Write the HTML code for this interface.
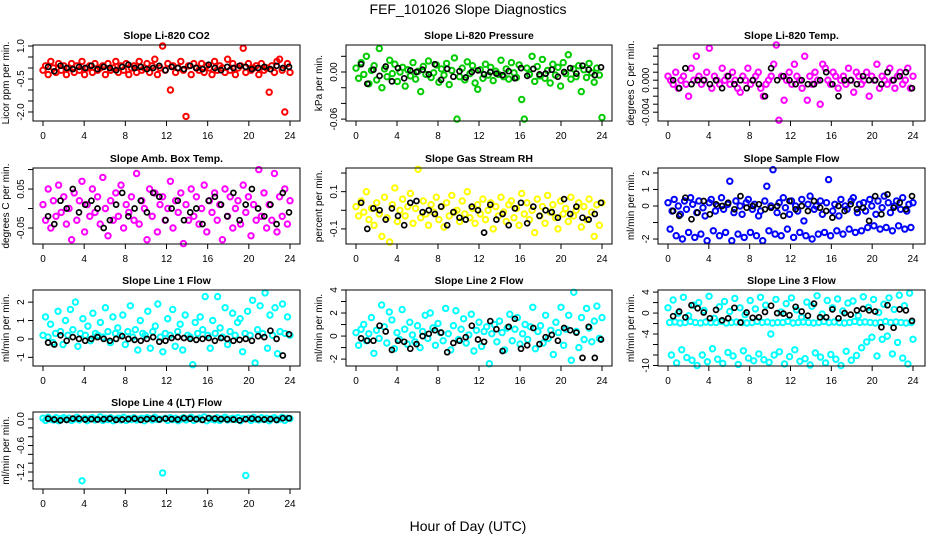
<!DOCTYPE html>
<html><head><meta charset="utf-8"><style>
html,body{margin:0;padding:0;background:#fff;}
svg{display:block;font-family:"Liberation Sans",sans-serif;}
</style></head><body>
<svg id="chart" width="936" height="540" viewBox="0 0 936 540">
<text x="468" y="14" text-anchor="middle" font-size="14">FEF_101026  Slope Diagnostics</text>
<text x="468" y="531" text-anchor="middle" font-size="14">Hour of Day (UTC)</text>
</svg>
<script>
const hourTicks = [0,4,8,12,16,20,24];

const co2Vals = [-0.1,0.1,-0.3,0.3,0,-0.2,0.2,-0.1,0.1,-0.3,0,0.2,-0.2,0.1,-0.1,0.3,-0.3,0,0.1,-0.2,0.2,-0.1,0,0.1,-0.3,0.2,-0.1,0,0.3,-0.2,0.1,-0.1,0.2,-0.3,0,0.1,-0.2,0.3,-0.1,0,0.2,-0.2,0.1,0.4,-0.3,0,1.0,-0.1,0.2,-1.0,0.1,-0.2,0,0.3,-0.1,-2.2,0.1,-0.3,0.2,0,-0.1,0.2,-0.2,0.1,0,-0.3,0.3,-0.1,0.1,0,-0.2,0.4,-0.1,0.2,-0.3,0,0.1,0.9,-0.2,0.2,-0.1,0,0.1,-0.3,0.2,-0.1,0,-1.1,0.1,-0.2,0.3,0.4,-0.1,-2.0,0.2,-0.2];
const co2Black = [0.05,-0.15,0.1,0,-0.05,0.05,0,0.1,-0.05,0.05,0,-0.1,0.05,0.15,0,0.05,-0.05,0,0.1,-0.1,0.05,0,-0.05,0.1,0,-0.05,0.15,0,-0.1,0.05,0,0.1,0.05,-0.05,0,0.05,-0.05,0.1,0,0.05];

const pressVals = [5,-8,12,-3,20,-15,2,8,-10,30,-20,4,-6,15,-2,10,-12,0,6,-18,3,-5,12,-9,1,-25,7,-3,14,-7,-1,9,-13,4,-4,11,-16,2,18,-60,-6,5,-10,13,-2,8,-14,-22,3,-8,10,-4,6,-11,1,-3,15,-6,4,-9,12,-1,-7,9,-35,-60,5,-3,20,-12,7,-5,16,-8,2,-14,10,-4,6,-18,12,-2,22,-9,4,-6,8,-25,3,-7,11,-1,-13,5,-4,-58];
const pressBlack = [10,-15,3,-5,7,-12,5,-8,2,0,3,-3,10,-10,4,-6,1,-7,0,2,-3,0,-2,-4,1,-8,5,-5,4,-3,-2,3,-6,0,5,-2,8,3,-4,6];

const tempVals = [0.5,0,-0.5,1,-1,0,0.5,-0.5,-2,1.5,0,3,0.5,-0.5,0,1,4,-1,0.5,0,-0.5,1.5,0,0.5,-0.5,1,0,-1,-1.5,0.5,0,1.5,-0.5,0,0.5,1,-1,-2,-0.5,0,0.5,2,4.4,-5,0.5,-2.5,0,1,-0.5,2,0.5,0,-1,3,-2.5,0.5,-0.5,1,0,-3,2,1.5,0,-0.5,1,0.5,-1,0,0.5,-0.5,1.5,0,-1.5,1,0.5,-0.5,0,1,-2,0.5,0,2,-1,0.5,0,-0.5,1.5,0,-1,0.5,1,-0.5,0,1.5,-1,0.5];
const tempBlack = [0,-1,1.5,-0.5,0,0,-0.5,0,-1,0.5,-0.5,0,-1,0,-0.5,-2,1.5,0,0.5,0,-0.5,0,-0.5,-0.5,0,1,-0.5,-2,0,0,-0.5,0.5,0,0,-0.5,1,0,0.5,1,-1];

const ambVals = [1,-3,5,-5,2,-2,6,-1,3,-4,0,-8,4,-3,2,7,-6,1,-2,5,-1,3,-4,8,0,-7,2,-3,4,-2,6,-5,1,-1,3,-3,9,-4,2,0,-8,5,-2,4,-6,1,3,-3,0,7,-5,2,-1,4,-9,1,-3,5,-2,3,-4,0,6,-6,2,-1,4,-3,1,-8,5,-2,3,-5,0,2,-4,6,-1,3,-7,1,-3,10,-2,4,-5,1,-3,9,-6,3,-2,5,-4,2];
const ambBlack = [-2,-4,2,0,5,-1,1,2,0,-5,-3,1,4,-2,0,2,-1,4,3,-3,0,2,-3,-1,0,-4,2,3,1,-2,4,-3,1,5,0,-2,1,-4,4,-1];

const rhVals = [2,-3,5,-1,10,-5,1,-8,4,-2,-14,7,-4,-17,3,12,-6,0,6,-3,2,9,-7,1,22,-4,5,-2,-8,3,-1,7,-5,2,-9,4,-3,8,-1,0,-6,5,-2,10,-4,1,-7,3,-2,6,-5,0,4,-10,2,-3,7,-1,-6,3,5,-4,1,-8,9,-2,4,-5,0,-12,6,-3,2,-7,8,-1,3,-4,-10,5,-2,1,-6,7,-3,0,4,-9,2,-5,6,-1,-14,3,-8,4];
const rhBlack = [4,-10,1,0,-5,1,-3,-8,4,5,-1,0,-2,2,-8,-1,-4,-5,2,0,-12,3,-5,-2,-8,1,4,-7,2,-3,0,-1,-4,6,-2,2,-4,-5,-2,4];

const sampleVals = [0.2,-1.4,-0.3,0.4,-1.8,0,-0.5,-2.0,0.3,-0.2,-1.6,0.5,0.1,-1.9,-0.4,0.3,-1.7,-0.1,-0.6,-2.1,0.2,0.4,-1.5,-0.3,0,-1.8,0.5,-0.2,-1.6,0.1,1.5,-2.1,-0.4,0.3,-1.7,0,-0.5,-1.9,0.2,0.4,-1.6,-0.2,0.1,-1.8,-0.6,-0.3,-2.1,0.3,1.2,-1.5,0,2.2,-1.7,-0.4,0.2,-1.8,0.5,-0.1,-1.4,-0.5,0.3,-1.9,0,-0.3,-1.6,0.4,-0.9,-1.8,0.1,0.6,-2.0,-0.2,0,-1.7,0.3,-0.5,-1.6,0.2,1.6,-1.8,-0.3,0.1,-1.5,-0.6,0.4,-1.7,0,-0.2,-1.4,0.3,0.5,-1.6,-0.4,0.1,-1.5,0.2,-0.3,-1.3,0.4,0,-1.2,-0.5,0.3,-1.4,-0.1,0.6,-1.3,0.2,-0.4,-1.5,0,0.3,-1.2,-0.2,0.5,-1.4,-0.3,0.1,-1.3,0.2];
const sampleBlack = [-0.3,-0.6,0.5,-0.8,-0.4,0.3,-0.5,0.1,0,0.2,-0.2,0.6,-0.1,0,0.1,-0.2,-0.1,0,-0.6,0.3,-0.2,0,-0.3,0.3,-0.1,-0.3,-0.7,0,-0.3,0.1,-0.2,-0.1,-0.9,0.6,-0.5,0.7,-0.1,0.2,-0.2,0.6];

const line1Vals = [0.2,1.2,0.1,0.8,-0.2,0.3,1.5,0.4,-0.3,1.0,0.2,1.6,0.5,2.0,-0.4,0.3,1.1,0.2,0.7,-0.1,1.4,0.3,0.2,0.9,0.1,1.7,0.4,-0.2,1.2,0.3,0.6,0.2,1.3,-0.3,0.4,1.8,0.1,0.5,-0.6,1.0,0.3,0.2,1.5,-0.5,0.4,0.7,1.9,0.1,-0.7,0.3,1.1,0.2,1.6,-0.4,0.4,0.8,-0.6,1.3,0.2,0.1,-1.4,0.9,0.3,1.2,0.5,2.3,0.2,-0.5,1.0,0.3,2.3,0.6,0.1,1.7,-0.3,0.4,1.4,0.2,0.9,1.1,-0.7,0.3,1.5,0.2,2.1,-1.3,0.5,1.8,0.3,2.5,-0.5,1.3,0.2,1.7,-0.8,0.4,1.9,0.3,1.2,0.2];
const line1Black = [-0.2,-0.3,0.2,-0.1,0.1,0,-0.1,0,0.1,0,-0.1,0,0.15,0,-0.05,-0.1,0,0.1,-0.15,-0.1,0.05,0.1,0.05,0,-0.05,0,0.05,-0.1,0.05,0,-0.1,-0.05,0,-0.1,0.15,0.1,0.45,0,-0.9,0.25];

const line2Vals = [0.3,-0.8,0.6,1.0,-0.4,0.2,1.6,-1.5,0.5,-0.2,2.7,0.8,-0.6,2.1,1.4,-1.1,0.3,-0.3,2.3,0.6,-0.7,1.2,0.1,-0.5,0.9,-1.0,0.4,1.8,-0.2,2.0,0.7,-0.8,1.1,0.3,-0.4,2.4,0.2,-1.2,0.9,2.2,-0.3,0.6,1.5,-0.6,0.1,1.9,-1.3,0.5,1.2,-0.9,0.4,0.8,-2.4,0.2,1.0,-0.5,1.3,0.3,-1.2,0.7,1.9,-0.4,0.6,1.6,-0.7,0.2,1.0,-0.3,0.8,2.5,-1.1,0.4,0.9,-0.6,1.8,-0.2,0.5,-1.6,1.2,0.3,2.5,-0.8,0.6,1.8,-2.1,3.8,0.4,-1.0,1.6,-0.3,2.4,0.7,-0.5,1.3,2.6,-0.2,1.6];
const line2Black = [-0.2,-0.4,-0.4,0.9,0.4,-1.2,-0.4,-0.5,-1.1,-0.7,0,0.2,0.5,0.3,-1.4,-0.6,-0.4,-0.1,0.9,-0.3,-0.5,1.3,0.6,-1.3,0.8,1.5,-1.1,-0.8,0.7,-0.7,-0.1,0.1,-0.4,0.7,0.5,0.3,-1.9,0.8,-1.9,-0.3];

const line3Vals = [1,-1.8,-8,2.5,-1.7,-9.5,0,-1.9,-7,3,-1.8,-8.5,-0.5,-1.6,-9,1.5,-1.8,-10,2,-1.9,-8,0.5,-1.7,-9.3,3.2,-1.8,-6.8,-1,-1.8,-8.8,1.2,-1.6,-9.6,2.2,-1.9,-7.5,0.3,-1.8,-8.2,2.8,-1.7,-9.8,1,-1.8,-7.2,-0.3,-1.9,-8.6,2.4,-1.8,-9.1,0.8,-1.6,-7.8,3,-1.8,-8.9,1.5,-1.7,-9.4,-4,-1.9,-8,2.6,-1.8,-7.4,0.2,-1.8,-9.7,1.8,-1.6,-8.3,2.9,-1.9,-7,0.6,-1.8,-9.2,-0.8,-1.7,-8.7,2.1,-1.8,-9.9,1.3,-1.9,-7.6,3.3,-1.8,-8.4,-0.2,-1.6,-9.5,2.4,-1.8,-7.9,1,-1.7,-8.8,2.7,-1.8,-10,0.4,-1.9,-7.3,1.9,-1.8,-9,2.3,-1.6,-8.1,-0.5,-1.8,-6.6,3.1,-1.7,-5.5,1.1,-1.8,-4.6,2.6,-1.9,-8.2,0.1,-1.8,-5,1.7,-1.6,-4.4,2.9,-1.8,-7.8,0.7,-1.7,-5.6,3.4,-1.8,-8.6,1.4,-1.9,-9.7,3.8,-1.8,-5];
const line3Black = [-0.6,0.3,-0.8,1.5,0.9,0.1,-1,0.6,-1.4,-1,1,-1.8,0.1,-0.9,-0.8,0.2,1.4,0,-0.1,-0.4,1.2,0.3,-0.5,1.8,-0.8,-0.8,0.7,-1,0,-0.3,0.5,0.8,0.5,0.3,-2.7,1.5,-2.8,0.7,0.5,-1.5];

const line4Vals = [0.02,-0.03,0.04,0,-0.02,0.03,-0.04,0.01,0.03,-0.01,0.02,-0.03,0,0.04,-0.02,-1.4,0.02,-0.04,0.01,0.03,-0.02,0,0.05,-0.03,0.02,-0.01,0.03,-0.04,0,0.02,-0.02,0.04,-0.03,0.01,-0.01,0.03,-0.02,0,0.02,-0.04,0.03,0.01,-0.02,0.04,-0.01,0,-1.22,0.02,-0.03,0.03,-0.01,0.02,-0.04,0,0.03,-0.02,0.01,0.04,-0.03,0,0.02,-0.01,0.05,-0.04,0.02,0,-0.02,0.03,-0.03,0.01,0.04,-0.02,0,0.02,-0.01,0.03,-0.04,0.01,-1.28,0.02,-0.03,0.04,0,-0.02,0.03,-0.01,0.02,-0.04,0.01,0.03,-0.02,0,0.04,-0.03,0.02,0.01];
const line4Black = [0.01,-0.01,-0.03,-0.02,0.01,0.01,-0.01,0,-0.01,0,0.01,-0.02,-0.01,0,0.01,-0.02,0,0.01,-0.01,0.01,0,-0.01,0.02,0.01,0,-0.02,0.02,0.01,0,-0.01,-0.01,-0.03,0,0.01,0,-0.01,0,-0.02,0.02,0.02];

const co2Ticks = [1,0.5,0,-0.5,-1,-1.5,-2];
const co2TickLabels = ["1.0","","","-0.5","","","-2.0"];
const pressTicks = [20,0,-20,-40,-60];
const pressTickLabels = ["","0.00","","","-0.06"];
const tempTicks = [4,3,2,1,0,-1,-2,-3,-4];
const tempTickLabels = ["","","","","0.000","","","","-0.004"];
const ambTicks = [10,5,0,-5];
const ambTickLabels = ["","0.05","","-0.05"];
const rhTicks = [20,10,0,-10];
const rhTickLabels = ["","0.1","","-0.1"];
const sampleTicks = [2,1,0,-1,-2];
const sampleTickLabels = ["2","1","0","","-2"];
const line1Ticks = [2,1,0,-1];
const line1TickLabels = ["2","1","0","-1"];
const line2Ticks = [4,3,2,1,0,-1,-2];
const line2TickLabels = ["4","","2","","0","","-2"];
const line3Ticks = [4,2,0,-2,-4,-6,-8,-10];
const line3TickLabels = ["4","","0","","-4","","","-10"];
const line4Ticks = [0,-0.2,-0.4,-0.6,-0.8,-1.0,-1.2,-1.4];
const line4TickLabels = ["0.0","","","-0.6","","","-1.2",""];

const panels = [
 {name:"co2",title:"Slope Li-820 CO2",ylab:"Licor ppm per min.",col:"#ff0000",vals:co2Vals,blk:co2Black,ticks:co2Ticks,tl:co2TickLabels,ymin:-2.41,ymax:1.045,c:0,r:0},
 {name:"pressure",title:"Slope Li-820 Pressure",ylab:"kPa per min.",col:"#00cc00",vals:pressVals,blk:pressBlack,ticks:pressTicks,tl:pressTickLabels,ymin:-62.4,ymax:34.4,c:1,r:0},
 {name:"temp",title:"Slope Li-820 Temp.",ylab:"degrees C per min.",col:"#ff00ff",vals:tempVals,blk:tempBlack,ticks:tempTicks,tl:tempTickLabels,ymin:-5.1,ymax:4.4,c:2,r:0},
 {name:"amb-box-temp",title:"Slope Amb. Box Temp.",ylab:"degrees C per min.",col:"#ff00ff",vals:ambVals,blk:ambBlack,ticks:ambTicks,tl:ambTickLabels,ymin:-9.1,ymax:10.4,c:0,r:1},
 {name:"gas-rh",title:"Slope Gas Stream RH",ylab:"percent per min.",col:"#ffff00",vals:rhVals,blk:rhBlack,ticks:rhTicks,tl:rhTickLabels,ymin:-18.1,ymax:22.7,c:1,r:1},
 {name:"sample-flow",title:"Slope Sample Flow",ylab:"ml/min per min.",col:"#0000ff",vals:sampleVals,blk:sampleBlack,ticks:sampleTicks,tl:sampleTickLabels,ymin:-2.3,ymax:2.3,c:2,r:1},
 {name:"line1-flow",title:"Slope Line 1 Flow",ylab:"ml/min per min.",col:"#00ffff",vals:line1Vals,blk:line1Black,ticks:line1Ticks,tl:line1TickLabels,ymin:-1.47,ymax:2.66,c:0,r:2},
 {name:"line2-flow",title:"Slope Line 2 Flow",ylab:"ml/min per min.",col:"#00ffff",vals:line2Vals,blk:line2Black,ticks:line2Ticks,tl:line2TickLabels,ymin:-2.6,ymax:4.0,c:1,r:2},
 {name:"line3-flow",title:"Slope Line 3 Flow",ylab:"ml/min per min.",col:"#00ffff",vals:line3Vals,blk:line3Black,ticks:line3Ticks,tl:line3TickLabels,ymin:-10.1,ymax:4.4,c:2,r:2},
 {name:"line4-flow",title:"Slope Line 4 (LT) Flow",ylab:"ml/min per min.",col:"#00ffff",vals:line4Vals,blk:line4Black,ticks:line4Ticks,tl:line4TickLabels,ymin:-1.585,ymax:0.16,c:0,r:3}
];

const NS="http://www.w3.org/2000/svg";
const svg=document.getElementById("chart");
const colLeft=[33,346,658], colRight=[300,612,925], colX0=[43,356,668], colX24=[290,602,913];
const rowTop=[45,168,290,412], rowBot=[121,244,366,489];
function mk(tag,attrs,parent){const e=document.createElementNS(NS,tag);for(const k in attrs)e.setAttribute(k,attrs[k]);(parent||svg).appendChild(e);return e;}

panels.forEach(p=>{
  const L=colLeft[p.c],R=colRight[p.c],T=rowTop[p.r],B=rowBot[p.r];
  const xs=h=>colX0[p.c]+(colX24[p.c]-colX0[p.c])*h/24;
  const ys=v=>B-(v-p.ymin)/(p.ymax-p.ymin)*(B-T);
  const g=mk("g",{});
  
  
  const t=mk("text",{x:(L+R)/2,y:T-6,"text-anchor":"middle","font-size":"10.5","font-weight":"bold"},g);
  t.textContent=p.title;
  
  
  const yl=mk("text",{x:0,y:0,"text-anchor":"middle","font-size":"10",transform:`translate(${L-24},${(T+B)/2}) rotate(-90)`},g);
  yl.textContent=p.ylab;
  
  
  const pts=mk("g",{},g);
  
  
  const n=p.vals.length;
  p.vals.forEach((v,i)=>{
    const c=mk("circle",{cx:xs(i*24/(n-1)).toFixed(1),cy:ys(v).toFixed(1),r:2.7,fill:"none",stroke:p.col,"stroke-width":2},pts);
    
    
  });
  const bp=mk("g",{},g);
  
  
  const m=p.blk.length;
  p.blk.forEach((v,i)=>{
    const c=mk("circle",{cx:xs(0.5+i*23.4/(m-1)).toFixed(1),cy:ys(v).toFixed(1),r:2.5,fill:"none",stroke:"#000","stroke-width":1.7},bp);
    
    
  });
  const box=mk("rect",{x:L,y:T,width:R-L,height:B-T,fill:"none",stroke:"#000","stroke-width":1},g);
  
  
  const ya=mk("g",{},g);
  
  
  const ty0=ys(p.ticks[0]), ty1=ys(p.ticks[p.ticks.length-1]);
  mk("line",{x1:L,x2:L,y1:ty0,y2:ty1,stroke:"#000"},ya);
  p.ticks.forEach((v,i)=>{
    const y=ys(v);
    mk("line",{x1:L-5,x2:L,y1:y,y2:y,stroke:"#000"},ya);
    if(p.tl[i]){
      const lt=mk("text",{x:0,y:0,"text-anchor":"middle","font-size":"10",transform:`translate(${L-9},${y}) rotate(-90)`},ya);
      lt.textContent=p.tl[i];
      
      
    }
  });
  const xa=mk("g",{},g);
  
  
  mk("line",{x1:xs(0),x2:xs(24),y1:B,y2:B,stroke:"#000"},xa);
  hourTicks.forEach(h=>{
    const x=xs(h);
    mk("line",{x1:x,x2:x,y1:B,y2:B+5,stroke:"#000"},xa);
    const lt=mk("text",{x:x,y:B+18,"text-anchor":"middle","font-size":"10"},xa);
    lt.textContent=String(h);
    
    
  });
});
</script>
</body></html>
